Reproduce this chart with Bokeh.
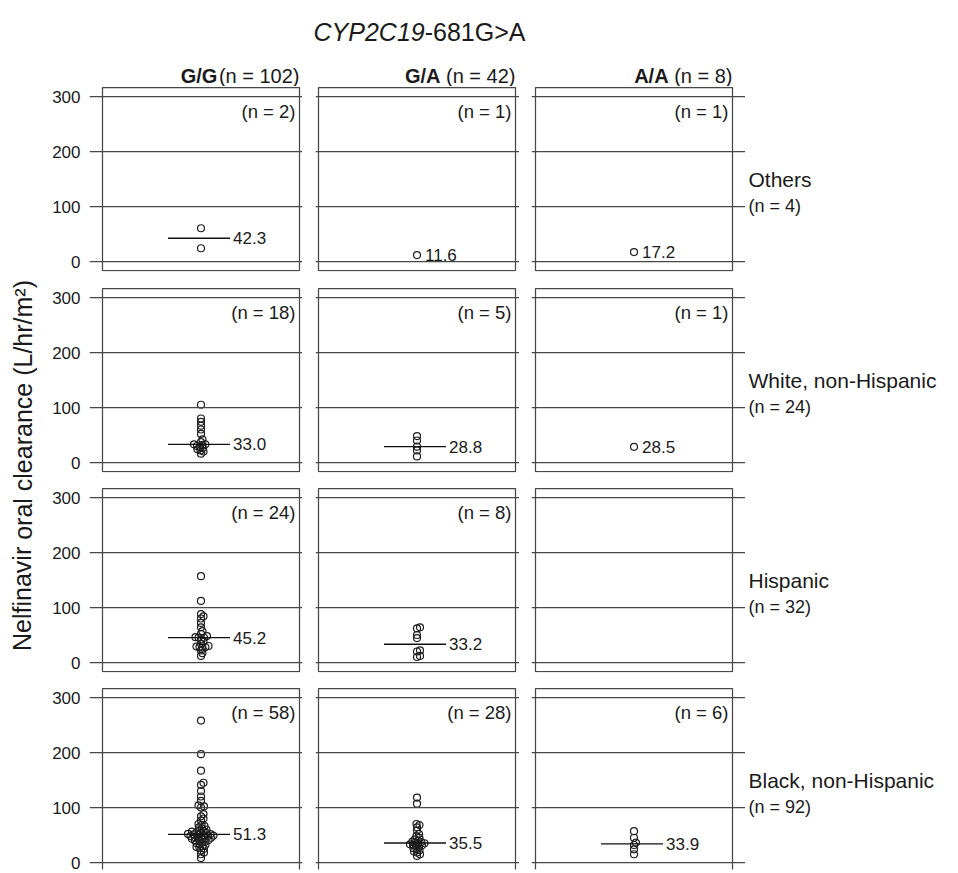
from bokeh.plotting import figure
from bokeh.layouts import row, column
from bokeh.models import Span, FixedTicker, LinearAxis, Range1d
from bokeh.core.properties import value
from bokeh.embed import file_html
from bokeh.resources import INLINE

# ---------------- data ----------------
title_italic = "CYP2C19"
title_rest = "-681G>A"
genotypes = ["G/G", "G/A", "A/A"]
genotype_n = [102, 42, 8]
races = ["Others", "White, non-Hispanic", "Hispanic", "Black, non-Hispanic"]
race_n = [4, 24, 32, 92]
yticks = [0, 100, 200, 300]
y_label = "Nelfinavir oral clearance (L/hr/m\u00b2)"

others_gg = [60.5, 24.1]
others_ga = [11.6]
others_aa = [17.2]
white_gg = [105, 80, 74, 67, 60, 52, 42, 37, 33.0, 33.0, 32, 30, 28, 26, 24, 22, 20, 16]
white_ga = [48, 40, 28.8, 22, 11]
white_aa = [28.5]
hisp_gg = [157, 112, 88, 84, 80, 72, 64, 57, 52, 48, 46, 45.4, 45.0, 42, 38, 34,
           30, 29, 28, 28, 27, 22, 17, 12]
hisp_ga = [64, 62, 50, 44.4, 22, 20, 12, 10]
hisp_aa = []
black_gg = [258, 197, 167, 145, 141, 130, 120, 112, 104, 102, 100,
            8, 15, 18, 22, 25, 27, 28, 30, 32, 33, 35, 36, 38, 39, 40, 41, 42, 43,
            44, 44.5, 45, 46, 47, 48, 48, 49, 50, 50, 51,
            51.6, 52, 53, 54, 55, 56, 57, 58, 60, 62, 64, 66, 68, 70, 76, 80, 84, 88]
black_ga = [118, 107, 12, 15, 18, 20, 22, 24, 26, 28, 30, 31, 32, 33, 34, 35, 36,
            37, 38, 40, 42, 45, 48, 52, 58, 64, 68, 70]
black_aa = [57, 45, 36, 31.8, 24, 15]

panel_values = [
    [others_gg, others_ga, others_aa],
    [white_gg, white_ga, white_aa],
    [hisp_gg, hisp_ga, hisp_aa],
    [black_gg, black_ga, black_aa],
]
medians = [
    [42.3, 11.6, 17.2],
    [33.0, 28.8, 28.5],
    [45.2, 33.2, None],
    [51.3, 35.5, 33.9],
]

# ---------------- style / layout ----------------
FONT = value("Liberation Sans")
TXT = "#1a1a1a"
LINE = "#474747"
DOT = "#1e1e1e"

PPU = 0.55            # pixels per clearance unit
FH = 185              # frame height of a panel
Y1 = 300 + 10 / PPU
BOX_T = 300 + 9 / PPU
BOX_B = -9 / PPU
BOX_W = 197
CTR = BOX_W / 2.0

HEADER_H = 86
ROW_BB = [16, 15, 15, 4]
TOTAL_H = 873
YLAB_W = 48
RLAB_W = 205
LAST_FH = TOTAL_H - HEADER_H - sum(FH + b for b in ROW_BB[:3]) - ROW_BB[3]

cols = [dict(bl=41, fw=213, xs=-13), dict(bl=13, fw=204, xs=-3), dict(bl=12, fw=214, xs=-4)]
BLOCK_W = sum(c["bl"] + c["fw"] for c in cols)

AR = {" ": 278, "(": 333, ")": 333, "=": 584, "n": 556, "-": 333, "G": 778, ">": 584,
      "A": 667, "/": 278, "C": 722, "Y": 667, "P": 667}
AR_B = {"G": 778, "/": 278, "A": 722}


def textw(s, fs, bold=False):
    tot = 0
    for ch in s:
        if ch.isdigit():
            tot += 556
        elif bold and ch in AR_B:
            tot += AR_B[ch]
        else:
            tot += AR.get(ch, 556)
    return tot * fs / 1000.0


def swarm(vals, ppu, d=3.0, step=0.5):
    placed = []
    xs = [0.0] * len(vals)
    order = sorted(range(len(vals)), key=lambda i: vals[i])
    for i in order:
        y = vals[i] * ppu
        k = 0
        while True:
            cands = [0.0] if k == 0 else [k * step, -k * step]
            ok = None
            for c in cands:
                if all((c - px) ** 2 + (y - py) ** 2 >= d * d for px, py in placed):
                    ok = c
                    break
            if ok is not None:
                break
            k += 1
        placed.append((ok, y))
        xs[i] = ok
    return xs


def blank(w, h, xr, yr):
    p = figure(frame_width=w, frame_height=h, x_range=xr, y_range=yr,
               x_axis_type=None, y_axis_type=None, toolbar_location=None,
               output_backend="svg", min_border=0, outline_line_color=None,
               title=None)
    p.grid.visible = False
    return p


# ---------------- header ----------------
header = blank(BLOCK_W, HEADER_H, Range1d(0, BLOCK_W), Range1d(0, HEADER_H))
TFS = 25
tw = textw(title_italic, TFS) + textw(title_rest, TFS)
tcx = 371
split = tcx - tw / 2 + textw(title_italic, TFS)
ty = HEADER_H - 31
header.text(x=[split], y=[ty], text=[title_italic], text_font=FONT, text_font_size="25px",
            text_font_style="italic", text_align="right", text_baseline="alphabetic", text_color=TXT)
header.text(x=[split], y=[ty], text=[title_rest], text_font=FONT, text_font_size="25px",
            text_align="left", text_baseline="alphabetic", text_color=TXT)

HFS = 20
xoff = 0
for j, c in enumerate(cols):
    box_right = xoff + c["bl"] - c["xs"] + BOX_W
    normal = "(n = %d)" % genotype_n[j]
    gapw = 1.5 if j == 0 else textw(" ", HFS)
    nw = textw(normal, HFS) + gapw
    hy = HEADER_H - 75
    header.text(x=[box_right], y=[hy], text=[normal], text_font=FONT, text_font_size="20px",
                text_align="right", text_baseline="alphabetic", text_color=TXT)
    header.text(x=[box_right - nw], y=[hy], text=[genotypes[j]], text_font=FONT, text_font_size="20px",
                text_font_style="bold", text_align="right", text_baseline="alphabetic", text_color=TXT)
    xoff += c["bl"] + c["fw"]

# ---------------- panels ----------------
rows = []
for r in range(4):
    last = r == 3
    fh = LAST_FH if last else FH
    bb = ROW_BB[r]
    y0 = Y1 - fh / PPU
    figs = []
    for j, c in enumerate(cols):
        p = figure(frame_width=c["fw"], frame_height=fh,
                   x_range=Range1d(c["xs"], c["xs"] + c["fw"]), y_range=Range1d(y0, Y1),
                   x_axis_type=None, y_axis_type=None, toolbar_location=None,
                   output_backend="svg", min_border_left=c["bl"], min_border_right=0,
                   min_border_top=0, min_border_bottom=bb, outline_line_color=None,
                   title=None)
        p.grid.visible = False
        if j == 0:
            ax = LinearAxis(ticker=FixedTicker(ticks=yticks), axis_line_color=None,
                            major_tick_line_color=None, minor_tick_line_color=None,
                            major_tick_in=0, major_tick_out=0, major_label_standoff=9,
                            major_label_text_font="Liberation Sans",
                            major_label_text_font_size="17px", major_label_text_color=TXT)
            p.add_layout(ax, "left")
        for t in yticks:
            p.add_layout(Span(location=t, dimension="width", line_color=LINE, line_width=1.25))
        p.quad(left=[0], right=[BOX_W], bottom=[BOX_B], top=[BOX_T], fill_color=None,
               line_color=LINE, line_width=1.25)
        vals = panel_values[r][j]
        if vals:
            offs = swarm(vals, PPU)
            p.scatter(x=[CTR + o for o in offs], y=vals, size=7, marker="circle",
                      fill_color=None, line_color=DOT, line_width=1.2)
            p.text(x=[BOX_W - 4], y=[300 - 14.5 / PPU], text=["(n = %d)" % len(vals)],
                   text_font=FONT, text_font_size="18.5px", text_align="right",
                   text_baseline="middle", text_color=TXT)
            m = medians[r][j]
            if len(vals) > 1:
                p.segment(x0=[CTR - 33], x1=[CTR + 29], y0=[m], y1=[m], line_color="#111111",
                          line_width=1.3)
                lx = CTR + 32
            else:
                lx = CTR + 8
            p.text(x=[lx], y=[m], text=["%.1f" % m], text_font=FONT, text_font_size="17px",
                   text_align="left", text_baseline="middle", text_color=TXT)
        figs.append(p)
    rows.append(row(*figs))

# ---------------- y label ----------------
ylab = blank(YLAB_W, TOTAL_H, Range1d(0, YLAB_W), Range1d(0, TOTAL_H))
ylab.text(x=[22], y=[TOTAL_H - 465], text=[y_label], angle=1.5707963, text_font=FONT,
          text_font_size="25px", text_align="center", text_baseline="middle", text_color=TXT)

# ---------------- row labels ----------------
rlab = blank(RLAB_W, TOTAL_H, Range1d(0, RLAB_W), Range1d(0, TOTAL_H))
row_tops = [HEADER_H]
for b in ROW_BB[:3]:
    row_tops.append(row_tops[-1] + FH + b)
for r in range(4):
    y100 = row_tops[r] + (Y1 - 100) * PPU
    rlab.text(x=[3], y=[TOTAL_H - (y100 - 27)], text=[races[r]], text_font=FONT,
              text_font_size="21px", text_align="left", text_baseline="middle", text_color=TXT)
    rlab.text(x=[3], y=[TOTAL_H - (y100 - 1)], text=["(n = %d)" % race_n[r]], text_font=FONT,
              text_font_size="18px", text_align="left", text_baseline="middle", text_color=TXT)

layout = row(ylab, column(header, *rows), rlab)
open("out.html", "w").write(file_html(layout, INLINE))
